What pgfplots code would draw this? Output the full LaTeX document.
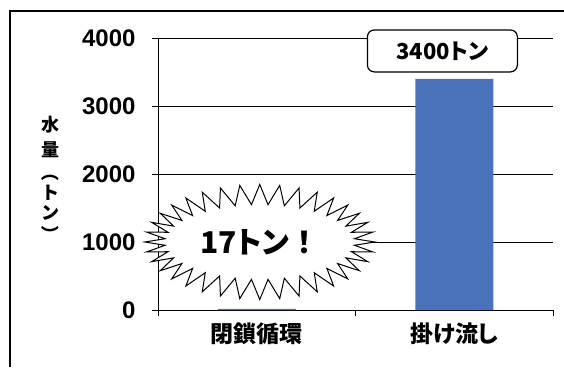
\documentclass[border=0pt]{standalone}
\usepackage{fontspec}
\setmainfont{Liberation Sans}
\newfontfamily\jp{Noto Sans CJK JP}[RawFeature=+palt]
\newfontfamily\jpf{Noto Sans CJK JP}
\usepackage{pgfplots}
\pgfplotsset{compat=1.18}
\usetikzlibrary{shapes.symbols}
\definecolor{barblue}{RGB}{74,114,186}
\begin{document}
\begin{tikzpicture}[x=1pt,y=1pt]
\path[use as bounding box] (0,0) rectangle (564,367);
\draw[line width=1.2pt] (10,0) -- (10,356) -- (564,356);
\begin{axis}[
  at={(158pt,57pt)}, anchor=south west,
  scale only axis, width=395pt, height=272pt,
  xmin=-0.5, xmax=1.5, ymin=0, ymax=4000,
  axis x line*=bottom, axis y line*=left,
  axis line style={line width=0.9pt},
  ytick={0,1000,2000,3000,4000},
  yticklabels={0,1000,2000,3000,4000},
  ymajorgrids, grid style={black, line width=0.9pt},
  tick align=outside, major tick length=6pt,
  tick style={black, line width=0.9pt},
  yticklabel style={font=\bfseries\fontsize{24}{24}\selectfont, xshift=-13pt},
  xtick={-0.5,0.5,1.5}, xticklabels={},
  extra x ticks={0,1},
  extra x tick labels={閉鎖循環,掛け流し},
  extra x tick style={grid=none, major tick length=0pt,
    xticklabel style={font=\jp\bfseries\fontsize{23}{24}\selectfont, yshift=-9pt}},
  clip=false,
]
\addplot[ybar, bar width=78pt, fill=barblue, draw=none] coordinates {(0,17) (1,3400)};
\coordinate (sb) at (axis cs:0,1000);
\coordinate (bx) at (axis cs:0.94,3810);
\end{axis}
\begin{scope}[every node/.style={font=\jpf\bfseries\fontsize{18}{18}\selectfont, inner sep=0pt}]
\node at (50,367-125) {水};
\node at (50,367-150) {量};
\node at (50,367-173) {\rotatebox{-90}{（}};
\node at (50,367-193) {ト};
\node at (50,367-213) {ン};
\node at (50,367-234) {\rotatebox{-90}{）}};
\end{scope}
\node[starburst, draw, fill=white, line width=1pt, starburst points=36,
  starburst point height=20pt, random starburst=0, minimum width=230pt, minimum height=115pt]
  at ([xshift=3pt]sb) {\jp\bfseries\fontsize{30}{30}\selectfont 17トン\jpf！};
\node[draw, rounded corners=7pt, fill=white, line width=1.2pt,
  minimum width=150pt, minimum height=42pt]
  at (bx) {\jp\bfseries\fontsize{22}{22}\selectfont 3400トン};
\end{tikzpicture}
\end{document}
